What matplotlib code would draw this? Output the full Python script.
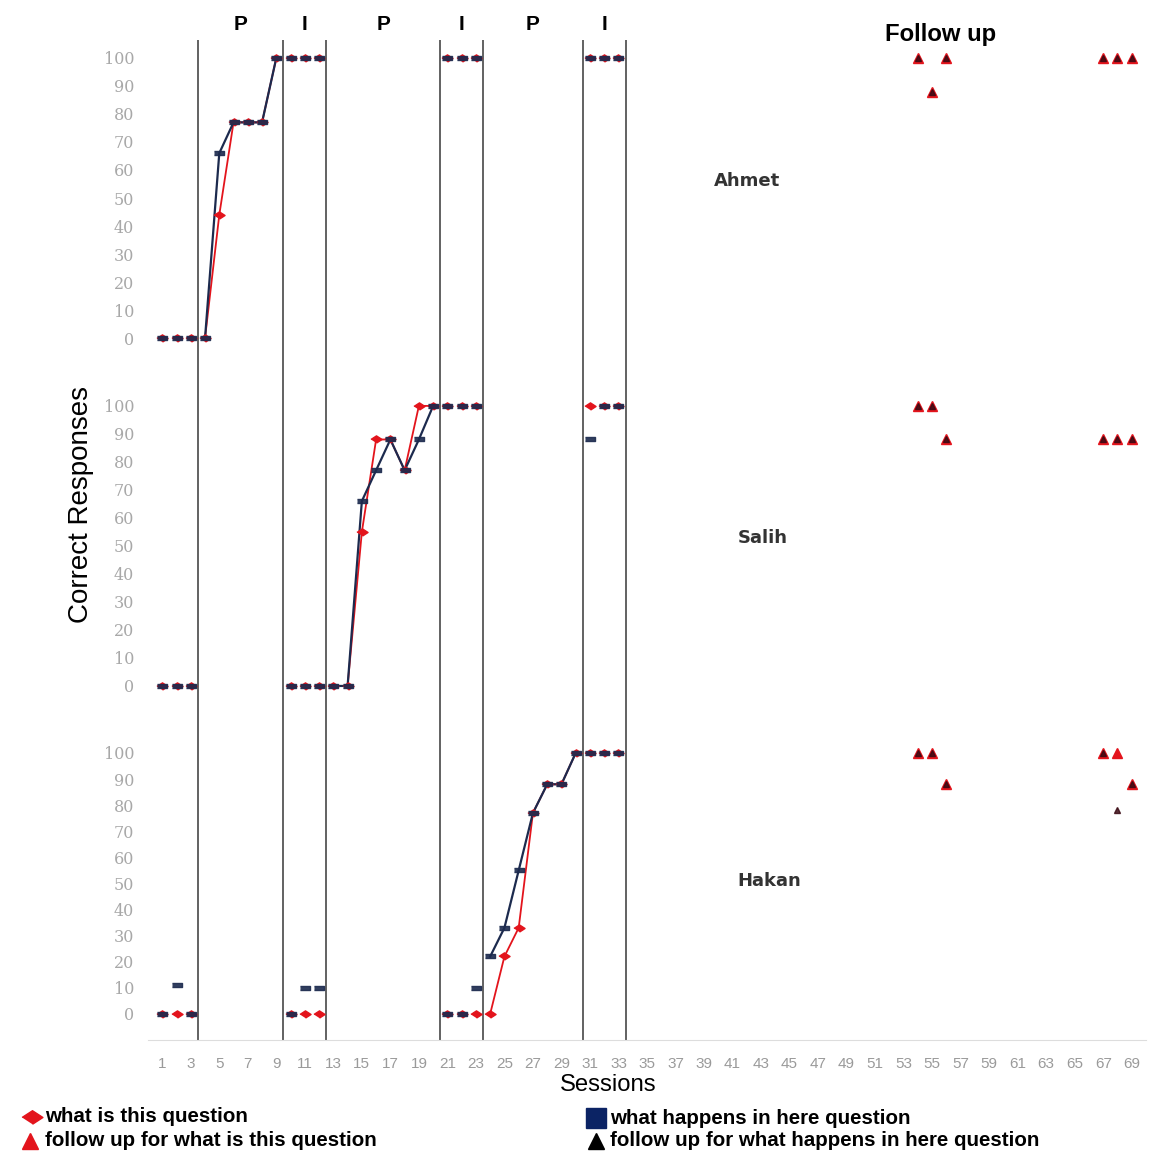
import matplotlib
matplotlib.use('Agg')
import matplotlib.pyplot as plt
import numpy as np
from matplotlib import font_manager
from matplotlib.lines import Line2D

nan = np.nan

# ---------------- data ----------------
sessions = list(range(1, 34))
phase_labels = ['P', 'I', 'P', 'I', 'P', 'I']
phase_centers = [6.5, 11, 16.5, 22, 27, 32]
phase_lines = [3.5, 9.5, 12.5, 20.5, 23.5, 30.5, 33.5]
p_ranges = [(4, 9), (13, 20), (24, 30)]
participants = ['Ahmet', 'Salih', 'Hakan']

ahmet_what = [0, 0, 0, 0, 44, 77, 77, 77, 100, 100, 100, 100,
              nan, nan, nan, nan, nan, nan, nan, nan, 100, 100, 100,
              nan, nan, nan, nan, nan, nan, nan, 100, 100, 100]
ahmet_happens = [0, 0, 0, 0, 66, 77, 77, 77, 100, 100, 100, 100,
                 nan, nan, nan, nan, nan, nan, nan, nan, 100, 100, 100,
                 nan, nan, nan, nan, nan, nan, nan, 100, 100, 100]
salih_what = [0, 0, 0, nan, nan, nan, nan, nan, nan, 0, 0, 0,
              0, 0, 55, 88, 88, 77, 100, 100, 100, 100, 100,
              nan, nan, nan, nan, nan, nan, nan, 100, 100, 100]
salih_happens = [0, 0, 0, nan, nan, nan, nan, nan, nan, 0, 0, 0,
                 0, 0, 66, 77, 88, 77, 88, 100, 100, 100, 100,
                 nan, nan, nan, nan, nan, nan, nan, 88, 100, 100]
hakan_what = [0, 0, 0, nan, nan, nan, nan, nan, nan, 0, 0, 0,
              nan, nan, nan, nan, nan, nan, nan, nan, 0, 0, 0,
              0, 22, 33, 77, 88, 88, 100, 100, 100, 100]
hakan_happens = [0, 11, 0, nan, nan, nan, nan, nan, nan, 0, 10, 10,
                 nan, nan, nan, nan, nan, nan, nan, nan, 0, 0, 10,
                 22, 33, 55, 77, 88, 88, 100, 100, 100, 100]

fu_sessions = [54, 55, 56, 67, 68, 69]
ahmet_fu_what = [100, 88, 100, 100, 100, 100]
ahmet_fu_happens = [100, 88, 100, 100, 100, 100]
salih_fu_what = [100, 100, 88, 88, 88, 88]
salih_fu_happens = [100, 100, 88, 88, 88, 88]
hakan_fu_what = [100, 100, 88, 100, 100, 88]
hakan_fu_happens = [100, 100, 88, 100, 78, 88]

name_pos = [(42.0, 56), (43.1, 53), (43.6, 51)]
xtick_vals = list(range(1, 70, 2))
ytick_vals = list(range(0, 101, 10))

what_data = [ahmet_what, salih_what, hakan_what]
happens_data = [ahmet_happens, salih_happens, hakan_happens]
fu_what_data = [ahmet_fu_what, salih_fu_what, hakan_fu_what]
fu_happens_data = [ahmet_fu_happens, salih_fu_happens, hakan_fu_happens]

# ---------------- style ----------------
RED = '#e3141c'
NAVY = '#1c2a4e'
NAVY_LEG = '#0b2364'
MAROON = '#3a0a14'
names = {f.name for f in font_manager.fontManager.ttflist}
if 'Liberation Sans Narrow' in names:
    NARROW = ['Liberation Sans Narrow', 'DejaVu Sans']
    k = 1.0
else:
    NARROW = ['Liberation Sans', 'DejaVu Sans']
    k = 0.82
SANS = ['Liberation Sans', 'DejaVu Sans']

W, H = 1175, 1157
fig = plt.figure(figsize=(W / 100, H / 100), dpi=100)

def fy(py):
    return 1 - py / H

x0, x1 = 148 / W, 1146 / W
bounds = [(40, 365), (365, 712), (712, 1040)]
ylims = [(-9.6, 106.4), (-9.3, 114.6), (-10.0, 115.7)]

diamond = [(-1, 0), (0, 0.65), (1, 0), (0, -0.65)]
bar = [(-1, -0.5), (1, -0.5), (1, 0.5), (-1, 0.5)]

axes = []
for i in range(3):
    top, bot = bounds[i]
    ax = fig.add_axes([x0, fy(bot), x1 - x0, (bot - top) / H])
    axes.append(ax)
    ax.set_xlim(0, 70)
    ax.set_ylim(*ylims[i])
    for sp in ['top', 'right', 'left']:
        ax.spines[sp].set_visible(False)
    ax.spines['bottom'].set_visible(i == 2)
    ax.spines['bottom'].set_color('#dddddd')
    ax.set_yticks(ytick_vals)
    ax.set_yticklabels([str(v) for v in ytick_vals], color='#a8a8a8',
                       fontsize=11.5, family='DejaVu Serif')
    ax.tick_params(axis='y', length=0, pad=10)
    if i == 2:
        ax.set_xticks(xtick_vals)
        ax.set_xticklabels([str(v) for v in xtick_vals], color='#9a9a9a',
                           fontsize=11, family=SANS)
        ax.tick_params(axis='x', length=0, pad=12)
    else:
        ax.set_xticks([])
    for xl in phase_lines:
        ax.axvline(xl, color='#555555', lw=1.3, zorder=1)

    wd = np.array(what_data[i], dtype=float)
    hd = np.array(happens_data[i], dtype=float)
    s = np.array(sessions)
    for a, b in p_ranges:
        m = (s >= a) & (s <= b)
        ax.plot(s[m], wd[m], color=RED, lw=1.3, zorder=2)
        ax.plot(s[m], hd[m], color=NAVY, lw=1.6, zorder=3)
    ax.plot(s, wd, ls='none', marker=diamond, ms=8, color=RED, mec=RED, zorder=4)
    ax.plot(s, hd, ls='none', marker=bar, ms=7, color=NAVY, mec=NAVY, alpha=0.9, zorder=5)

    fw = np.array(fu_what_data[i], dtype=float)
    fh = np.array(fu_happens_data[i], dtype=float)
    ax.plot(fu_sessions, fw, ls='none', marker='^', ms=7.5, color=RED, mec=RED, zorder=4)
    ax.plot(fu_sessions, fh, ls='none', marker='^', ms=5, color=MAROON, mec=MAROON,
            alpha=0.85, zorder=5)

    nx, ny = name_pos[i]
    ax.text(nx, ny, participants[i], fontsize=13, weight='semibold', color='#333333',
            family='DejaVu Sans', ha='center', va='center')

# phase labels
for lab, c in zip(phase_labels, phase_centers):
    axes[0].text(c, 1 + 15 / 325, lab, transform=axes[0].get_xaxis_transform(),
                 ha='center', va='center', fontsize=15, weight='bold', family=SANS)
axes[0].text(55.6, 1 + 5 / 325, 'Follow up', transform=axes[0].get_xaxis_transform(),
             ha='center', va='center', fontsize=21 * k, weight='bold', family=NARROW)

# axis titles
fig.text(81 / W, fy(505), 'Correct Responses', rotation=90, ha='center', va='center',
         fontsize=20, family=SANS)
fig.text(608 / W, fy(1085), 'Sessions', ha='center', va='center',
         fontsize=21 * k, family=NARROW)

# legend
leg_items = [
    (32, 1117, 45, 'what is this question', dict(marker=diamond, ms=15, color=RED)),
    (30, 1141, 45, 'follow up for what is this question', dict(marker='^', ms=12, color=RED)),
    (596, 1118, 610, 'what happens in here question', dict(marker='s', ms=14, color=NAVY_LEG)),
    (596, 1141, 610, 'follow up for what happens in here question', dict(marker='^', ms=11, color='black')),
]
for mx, my, tx, txt, mk in leg_items:
    fig.add_artist(Line2D([mx / W], [fy(my)], ls='none', transform=fig.transFigure, **mk))
    fig.text(tx / W, fy(my), txt, ha='left', va='center', fontsize=18 * k,
             weight='bold', family=NARROW)

fig.savefig('out.png', dpi=100, facecolor='white')
